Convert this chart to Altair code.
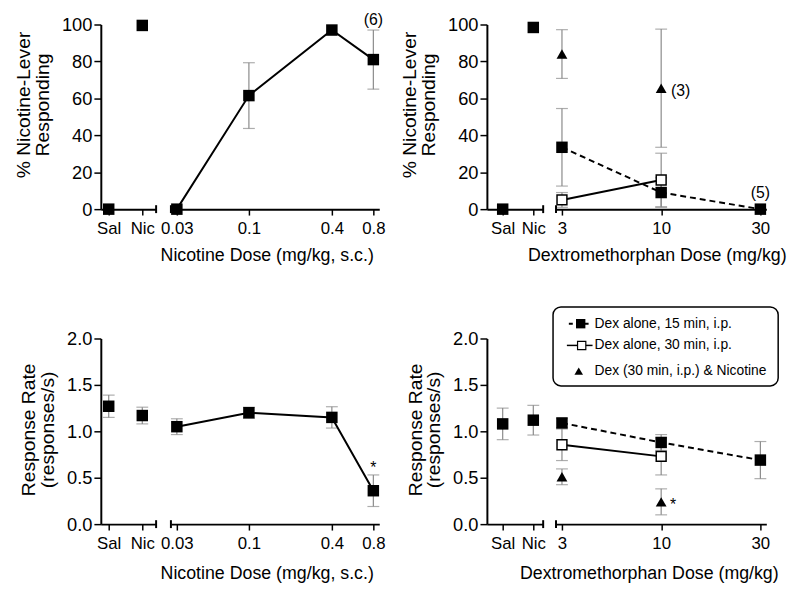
import altair as alt
import pandas as pd

FONT = "Liberation Sans"
GRAY = "#8a8a8a"

# ---------------- data ----------------
ctrl_labels = ["Sal", "Nic"]
ctrl_pos = [0, 1]
nic_doses = [0.03, 0.1, 0.4, 0.8]
dex_doses = [3, 10, 30]

# top-left: % nicotine-lever responding, nicotine dose-response
tl_ctrl_mean = [0.0, 99.5]
tl_ctrl_sem = [0.0, 0.0]
tl_nic_mean = [0.0, 61.5, 97.0, 81.0]
tl_nic_sem = [0.0, 17.8, 0.0, 16.0]

# top-right: % nicotine-lever responding, dextromethorphan
tr_ctrl_mean = [0.0, 98.4]
tr_ctrl_sem = [0.0, 0.0]
tr_dex15_dose = [3, 10, 30]
tr_dex15_mean = [33.5, 9.0, 0.0]
tr_dex15_sem = [21.0, 8.0, 0.0]
tr_dex30_dose = [3, 10]
tr_dex30_mean = [5.0, 15.8]
tr_dex30_sem = [4.0, 14.5]
tr_dexnic_dose = [3, 10]
tr_dexnic_mean = [84.0, 65.5]
tr_dexnic_sem = [13.2, 32.0]

# bottom-left: response rate, nicotine
bl_ctrl_mean = [1.27, 1.17]
bl_ctrl_sem = [0.12, 0.09]
bl_nic_mean = [1.05, 1.20, 1.15, 0.36]
bl_nic_sem = [0.085, 0.06, 0.115, 0.17]

# bottom-right: response rate, dextromethorphan
br_ctrl_mean = [1.08, 1.12]
br_ctrl_sem = [0.17, 0.16]
br_dex15_dose = [3, 10, 30]
br_dex15_mean = [1.09, 0.88, 0.69]
br_dex15_sem = [0.05, 0.085, 0.20]
br_dex30_dose = [3, 10]
br_dex30_mean = [0.855, 0.73]
br_dex30_sem = [0.17, 0.20]
br_dexnic_dose = [3, 10]
br_dexnic_mean = [0.51, 0.24]
br_dexnic_sem = [0.085, 0.14]

pct_title = ["% Nicotine-Lever", "Responding"]
rate_title = ["Response Rate", "(responses/s)"]
nic_title = "Nicotine Dose (mg/kg, s.c.)"
dex_title = "Dextromethorphan Dose (mg/kg)"
pct_ticks = [0, 20, 40, 60, 80, 100]
rate_ticks = [0.0, 0.5, 1.0, 1.5, 2.0]
legend_labels = ["Dex alone, 15 min, i.p.", "Dex alone, 30 min, i.p.",
                 "Dex (30 min, i.p.) & Nicotine"]

# ---------------- layout constants ----------------
H_TOP = 187
H_BOT = 188
W_CTRL_NIC = 56
W_CTRL_DEX = 57
W_NIC = 211
W_DEX = 213


def frame(x, mean, sem):
    df = pd.DataFrame({"x": x, "mean": mean, "sem": sem})
    df["lo"] = df["mean"] - df["sem"]
    df["hi"] = df["mean"] + df["sem"]
    return df


def errbars(df, xenc, yf):
    d = df[df["sem"] > 0]
    base = alt.Chart(d)
    rule = base.mark_rule(color=GRAY, strokeWidth=1.2).encode(
        x=xenc, y=yf("lo"), y2="hi:Q")
    lo = base.mark_tick(color=GRAY, orient="horizontal", size=12, thickness=1.2).encode(
        x=xenc, y=yf("lo"))
    hi = base.mark_tick(color=GRAY, orient="horizontal", size=12, thickness=1.2).encode(
        x=xenc, y=yf("hi"))
    return [rule, lo, hi]


def pts(df, xenc, yf, kind):
    if kind == "filled":
        m = alt.Chart(df).mark_point(shape="square", filled=True, color="black",
                                     size=135, opacity=1)
    elif kind == "open":
        m = alt.Chart(df).mark_point(shape="square", filled=True, fill="white",
                                     stroke="black", strokeWidth=1.5, size=100, opacity=1)
    else:
        m = alt.Chart(df).mark_point(shape="triangle-up", filled=True, color="black",
                                     size=120, opacity=1)
    return m.encode(x=xenc, y=yf("mean"))


def line(df, xenc, yf, dashed=False):
    kw = dict(color="black", strokeWidth=2)
    if dashed:
        kw["strokeDash"] = [6, 4]
    return alt.Chart(df).mark_line(**kw).encode(x=xenc, y=yf("mean"))


def make_yf(domain, axis):
    sc = alt.Scale(domain=domain, nice=False, zero=False)

    def yf(field):
        return alt.Y(f"{field}:Q", scale=sc, axis=axis)
    return yf


def y_axis(title, values, fmt, title_y):
    return alt.Axis(title=title, values=values, format=fmt, tickSize=7, labelPadding=2,
                    labelFontSize=18.5, titleFontSize=19.5, titlePadding=9, titleY=title_y,
                    grid=False, titleLineHeight=19)


def break_cap(x_px, h):
    return alt.Chart(alt.Data(values=[{"a": 1}])).mark_rule(
        color="black", strokeWidth=2).encode(
        x=alt.value(x_px), y=alt.value(h - 4), y2=alt.value(h + 4))


def spacer(w, h):
    return alt.Chart(alt.Data(values=[{"a": 1}])).mark_point(opacity=0).encode(
        x=alt.value(0), y=alt.value(0)).properties(width=w, height=h)


def text_layer(n, xenc, yf):
    return (alt.Chart(pd.DataFrame({"x": [n["x"]], "mean": [n["y"]], "label": [n["label"]]}))
            .mark_text(font=FONT, fontSize=n.get("size", 16), color="black",
                       baseline=n.get("baseline", "middle"), align=n.get("align", "center"),
                       dx=n.get("dx", 0), dy=n.get("dy", 0))
            .encode(x=xenc, y=yf("mean"), text="label:N"))


def ctrl_panel(mean, sem, width, h, sal_px, step_px, ydomain, yaxis):
    lo_v = -sal_px / step_px
    hi_v = (width - sal_px) / step_px
    xenc = alt.X("x:Q", scale=alt.Scale(domain=[lo_v, hi_v], nice=False, zero=False),
                 axis=alt.Axis(values=ctrl_pos, labelExpr=f"{ctrl_labels}[datum.value]",
                               title=None, tickSize=6, labelPadding=6, grid=False))
    yf = make_yf(ydomain, yaxis)
    df = frame(ctrl_pos, mean, sem)
    layers = errbars(df, xenc, yf) + [pts(df, xenc, yf, "filled"), break_cap(width, h)]
    return alt.layer(*layers).properties(width=width, height=h)


def nic_panel(mean, sem, h, ydomain, notes, title_x, title_pad):
    xenc = alt.X("x:Q", scale=alt.Scale(type="log", domain=[0.02717, 0.8832], nice=False),
                 axis=alt.Axis(values=nic_doses, format=".2~f", title=nic_title,
                               titleX=title_x, tickSize=6, labelPadding=6,
                               titlePadding=title_pad, grid=False))
    yf = make_yf(ydomain, None)
    df = frame(nic_doses, mean, sem)
    layers = errbars(df, xenc, yf) + [line(df, xenc, yf), pts(df, xenc, yf, "filled"),
                                      break_cap(0, h)]
    for n in notes:
        layers.append(text_layer(n, xenc, yf))
    return alt.layer(*layers).properties(width=W_NIC, height=h)


def dex_panel(series, h, ydomain, notes, title_x, title_pad, legend=False):
    xenc = alt.X("x:O", scale=alt.Scale(type="point", domain=dex_doses, padding=0.06),
                 axis=alt.Axis(labelAngle=0, title=dex_title, titleX=title_x, tickSize=6,
                               labelPadding=6, titlePadding=title_pad, grid=False))
    yf = make_yf(ydomain, None)
    layers = []
    for s in series:
        layers += errbars(s["df"], xenc, yf)
    for s in series:
        if s["line"] is not None:
            layers.append(line(s["df"], xenc, yf, dashed=(s["line"] == "dashed")))
    for s in series:
        layers.append(pts(s["df"], xenc, yf, s["kind"]))
    layers.append(break_cap(0, h))
    for n in notes:
        layers.append(text_layer(n, xenc, yf))
    if legend:
        one = lambda d: alt.Chart(alt.Data(values=[d]))
        layers.append(one({"a": 1}).mark_rect(fill="white", stroke="black", strokeWidth=1.5,
                                             cornerRadius=8)
                      .encode(x=alt.value(-3), x2=alt.value(225),
                              y=alt.value(-32), y2=alt.value(48)))
        rows = [-15, 7, 33]
        layers.append(one({"a": 1}).mark_rule(color="black", strokeWidth=2, strokeDash=[4, 4])
                      .encode(x=alt.value(13), x2=alt.value(37), y=alt.value(rows[0])))
        layers.append(one({"a": 1}).mark_point(shape="square", filled=True, color="black",
                                               size=90, opacity=1)
                      .encode(x=alt.value(25), y=alt.value(rows[0])))
        layers.append(one({"a": 1}).mark_rule(color="black", strokeWidth=1.5)
                      .encode(x=alt.value(11), x2=alt.value(37), y=alt.value(rows[1])))
        layers.append(one({"a": 1}).mark_point(shape="square", filled=True, fill="white",
                                               stroke="black", strokeWidth=1.2, size=70,
                                               opacity=1)
                      .encode(x=alt.value(26), y=alt.value(rows[1])))
        layers.append(one({"a": 1}).mark_point(shape="triangle-up", filled=True,
                                               color="black", size=75, opacity=1)
                      .encode(x=alt.value(23), y=alt.value(rows[2])))
        for lab, ry in zip(legend_labels, rows):
            layers.append(one({"label": lab}).mark_text(font=FONT, fontSize=14, align="left",
                                                        baseline="middle", color="black")
                          .encode(x=alt.value(39), y=alt.value(ry), text="label:N"))
    return alt.layer(*layers).properties(width=W_DEX, height=h)


def dex_series(d15, m15, s15, d30, m30, s30, dn, mn, sn):
    return [
        {"df": frame(d15, m15, s15), "kind": "filled", "line": "dashed"},
        {"df": frame(d30, m30, s30), "kind": "open", "line": "solid"},
        {"df": frame(dn, mn, sn), "kind": "tri", "line": None},
    ]


# ---------------- panels ----------------
tl_a = ctrl_panel(tl_ctrl_mean, tl_ctrl_sem, W_CTRL_NIC, H_TOP, 8, 34, [0, 100],
                  y_axis(pct_title, pct_ticks, "d", 81))
tl_b = nic_panel(tl_nic_mean, tl_nic_sem, H_TOP, [0, 100],
                 [{"x": 0.8, "y": 100, "label": "(6)", "dy": -5}], 97, 10)

tr_a = ctrl_panel(tr_ctrl_mean, tr_ctrl_sem, W_CTRL_DEX, H_TOP, 16, 31, [0, 100],
                  y_axis(pct_title, pct_ticks, "d", 81))
tr_b = dex_panel(dex_series(tr_dex15_dose, tr_dex15_mean, tr_dex15_sem,
                            tr_dex30_dose, tr_dex30_mean, tr_dex30_sem,
                            tr_dexnic_dose, tr_dexnic_mean, tr_dexnic_sem),
                 H_TOP, [0, 100],
                 [{"x": 10, "y": 65.5, "label": "(3)", "align": "left", "dx": 10, "dy": 3},
                  {"x": 30, "y": 0, "label": "(5)", "dy": -16}], 102, 10)

bl_a = ctrl_panel(bl_ctrl_mean, bl_ctrl_sem, W_CTRL_NIC, H_BOT, 8, 34, [0, 2],
                  y_axis(rate_title, rate_ticks, ".1f", 92))
bl_b = nic_panel(bl_nic_mean, bl_nic_sem, H_BOT, [0, 2],
                 [{"x": 0.8, "y": 0.535, "label": "*", "baseline": "alphabetic", "dy": -1}],
                 97, 13)

br_a = ctrl_panel(br_ctrl_mean, br_ctrl_sem, W_CTRL_DEX, H_BOT, 16, 31, [0, 2],
                  y_axis(rate_title, rate_ticks, ".1f", 92))
br_b = dex_panel(dex_series(br_dex15_dose, br_dex15_mean, br_dex15_sem,
                            br_dex30_dose, br_dex30_mean, br_dex30_sem,
                            br_dexnic_dose, br_dexnic_mean, br_dexnic_sem),
                 H_BOT, [0, 2],
                 [{"x": 10, "y": 0.24, "label": "*", "dx": 12, "baseline": "alphabetic",
                   "dy": 8}], 94, 13, legend=True)

cells = [tl_a, spacer(15, H_TOP), tl_b, spacer(109, H_TOP), tr_a, spacer(13, H_TOP), tr_b,
         bl_a, spacer(15, H_BOT), bl_b, spacer(109, H_BOT), br_a, spacer(13, H_BOT), br_b]

chart = (
    alt.concat(*cells, columns=7, spacing={"row": 131, "column": 0},
               bounds="flush", align="each")
    .properties(padding={"left": 6, "top": 0, "right": 5, "bottom": 5})
    .configure_view(stroke=None)
    .configure_axis(domainColor="black", domainWidth=2, tickColor="black", tickWidth=1.5,
                    labelColor="black", titleColor="black", labelFont=FONT, titleFont=FONT,
                    labelFontSize=17, titleFontSize=18, titleFontWeight="normal")
    .configure_text(font=FONT)
)

chart.save("out.html", embed_options={"renderer": "svg", "actions": False})
